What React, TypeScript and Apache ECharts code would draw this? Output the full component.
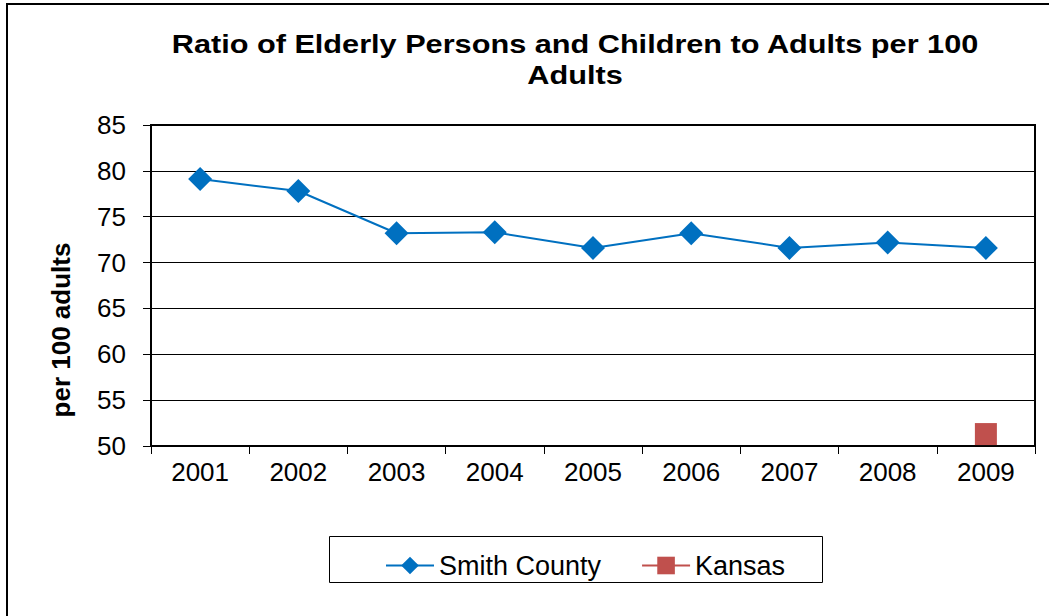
import React, { useEffect, useRef } from "react";
import * as echarts from "echarts";

const years = ["2001", "2002", "2003", "2004", "2005", "2006", "2007", "2008", "2009"];
const smithCounty = [79.1, 77.8, 73.2, 73.3, 71.6, 73.2, 71.6, 72.2, 71.6];
const kansas = [null, null, null, null, null, null, null, null, 51.3];
const titleText = "Ratio of Elderly Persons and Children to Adults per 100\nAdults";
const yAxisTitle = "per 100 adults";

export default function App() {
  const ref = useRef<HTMLDivElement>(null);
  useEffect(() => {
    if (!ref.current) return;
    const chart = echarts.init(ref.current, null, { renderer: "svg" });
    const font = "Liberation Sans, Arial, sans-serif";
    chart.setOption({
      animation: false,
      backgroundColor: "#ffffff",
      textStyle: { fontFamily: font },
      graphic: [
        {
          type: "rect",
          shape: { x: 7, y: 4, width: 1100, height: 700 },
          style: { fill: "none", stroke: "#000", lineWidth: 2 },
          silent: true,
        },
        {
          type: "rect",
          shape: { x: 329.5, y: 536.5, width: 493, height: 46 },
          style: { fill: "none", stroke: "#000", lineWidth: 1 },
          silent: true,
        },
        {
          type: "text",
          x: 575,
          y: 28,
          scaleX: 1.18,
          style: {
            text: titleText,
            font: `bold 26px ${font}`,
            fill: "#000",
            align: "center",
            verticalAlign: "top",
            lineHeight: 31,
          },
        },
        {
          type: "text",
          x: 61,
          y: 330,
          rotation: Math.PI / 2,
          style: {
            text: yAxisTitle,
            font: `bold 26px ${font}`,
            fill: "#000",
            align: "center",
            verticalAlign: "middle",
          },
        },
      ],
      legend: {
        left: 380,
        top: 547,
        itemWidth: 48,
        itemHeight: 22,
        itemGap: 40,
        textStyle: { fontSize: 27, color: "#000", fontFamily: font },
        data: ["Smith County", "Kansas"],
      },
      grid: {
        left: 151,
        right: 14,
        top: 125,
        bottom: 170,
        show: true,
        borderColor: "#000",
        borderWidth: 2,
        containLabel: false,
      },
      xAxis: {
        type: "category",
        data: years,
        boundaryGap: true,
        axisLine: { show: true, lineStyle: { color: "#000", width: 2 } },
        axisTick: { show: true, length: 8, interval: 0, lineStyle: { color: "#000", width: 1 } },
        axisLabel: { color: "#000", fontSize: 26, margin: 13, fontFamily: font },
        splitLine: { show: false },
      },
      yAxis: {
        type: "value",
        min: 50,
        max: 85,
        interval: 5,
        axisLine: { show: true, lineStyle: { color: "#000", width: 2 } },
        axisTick: { show: true, length: 8, lineStyle: { color: "#000", width: 1 } },
        axisLabel: { color: "#000", fontSize: 26, margin: 25, fontFamily: font },
        splitLine: { show: true, lineStyle: { color: "#000", width: 1 } },
      },
      series: [
        {
          name: "Smith County",
          type: "line",
          data: smithCounty,
          symbol: "diamond",
          symbolSize: 24,
          itemStyle: { color: "#0070C0" },
          lineStyle: { color: "#0070C0", width: 2 },
        },
        {
          name: "Kansas",
          type: "line",
          data: kansas,
          symbol: "rect",
          symbolSize: 22,
          itemStyle: { color: "#C0504D" },
          lineStyle: { color: "#C0504D", width: 2 },
        },
      ],
    });
    return () => chart.dispose();
  }, []);
  return (
    <div
      ref={ref}
      style={{ position: "fixed", left: 0, top: 0, width: 1049, height: 616 }}
    />
  );
}
